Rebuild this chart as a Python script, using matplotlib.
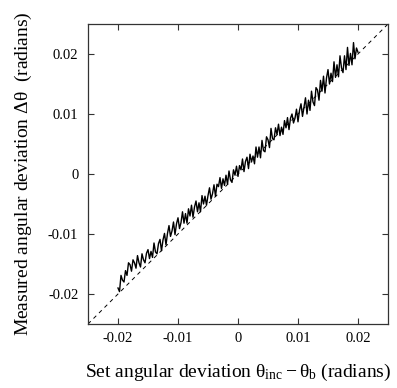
import matplotlib
matplotlib.use("Agg")
import matplotlib.pyplot as plt
import numpy as np

plt.rcParams['font.family'] = ['Liberation Serif', 'DejaVu Serif']
plt.rcParams['mathtext.fontset'] = 'custom'
plt.rcParams['mathtext.rm'] = 'Liberation Serif'
plt.rcParams['mathtext.it'] = 'Liberation Serif'

# set deviation, milliradians (step 0.25)
set_dev = np.arange(-20.0, 20.01, 0.25)

# measured deviation, milliradians
measured = [
    -19.0, -19.6, -16.9, -17.7, -18.0, -16.1, -16.9, -14.8,
    -15.1, -16.2, -14.3, -14.8, -15.7, -13.6, -14.8, -15.5,
    -13.3, -14.3, -14.8, -13.2, -12.6, -14.1, -12.9, -13.9,
    -11.5, -13.0, -13.3, -11.6, -10.9, -12.8, -11.0, -9.9,
    -11.8, -9.9, -8.6, -10.4, -9.5, -8.0, -10.1, -8.3,
    -7.3, -9.1, -8.1, -6.3, -8.2, -6.6, -8.2, -5.8,
    -7.0, -5.2, -7.2, -5.5, -4.5, -6.3, -4.8, -6.3,
    -3.6, -5.0, -3.7, -5.2, -3.6, -2.3, -4.2, -3.3,
    -1.8, -3.7, -1.7, -2.1, -0.6, -2.4, -0.8, -1.9,
    -0.2, -1.7, 0.5, -1.0, -1.4, 0.7, -0.2, 1.3,
    -0.4, 1.4, 0.7, 2.5, 0.4, 2.1, 2.8, 0.9,
    3.3, 2.0, 3.0, 1.7, 4.5, 2.8, 4.5, 2.7,
    5.6, 3.9, 3.7, 6.2, 5.7, 4.4, 7.6, 5.9,
    5.7, 7.7, 6.6, 8.3, 6.4, 7.8, 6.6, 8.9,
    7.7, 9.4, 7.4, 9.3, 10.0, 8.5, 9.3, 10.8,
    8.7, 10.6, 11.7, 9.6, 11.1, 12.7, 10.0, 12.3,
    10.6, 13.8, 12.0, 11.4, 14.4, 14.0, 12.3, 15.6,
    13.8, 16.3, 13.5, 16.0, 17.4, 15.0, 16.8, 15.4,
    18.7, 16.1, 18.2, 16.2, 19.7, 17.7, 16.9, 19.7,
    17.4, 21.1, 18.1, 20.1, 18.2, 21.9, 19.2, 21.0,
    20.3,
]

x = set_dev * 1e-3
y = np.array(measured) * 1e-3

fig = plt.figure(figsize=(3.97, 3.88), dpi=100)
ax = fig.add_axes([88 / 397, 64 / 388, 300 / 397, 300 / 388])

lim = [-0.025, 0.025]
ax.plot(lim, lim, color='black', lw=0.7, ls=(0, (4, 4)))
ax.plot(x, y, color='black', lw=1.0)

ax.set_xlim(lim)
ax.set_ylim(lim)
ticks = [-0.02, -0.01, 0, 0.01, 0.02]
labels = ['-0.02', '-0.01', '0', '0.01', '0.02']
ax.set_xticks(ticks)
ax.set_xticklabels(labels)
ax.set_yticks(ticks)
ax.set_yticklabels(labels)
ax.tick_params(direction='in', length=4, width=0.8, top=True, right=True,
               labelsize=10.5, color='#333333')
ax.tick_params(axis='x', pad=6)
ax.tick_params(axis='y', pad=7)
for s in ax.spines.values():
    s.set_linewidth(0.9)
    s.set_color('#333333')

ax.set_xlabel(r'Set angular deviation $\theta_{\rm inc} - \theta_{\rm b}$ (radians)',
              fontsize=14, labelpad=12)
ax.set_ylabel(r'Measured angular deviation $\Delta\theta$  (radians)',
              fontsize=14, labelpad=10)

fig.savefig('out.png', dpi=100)
